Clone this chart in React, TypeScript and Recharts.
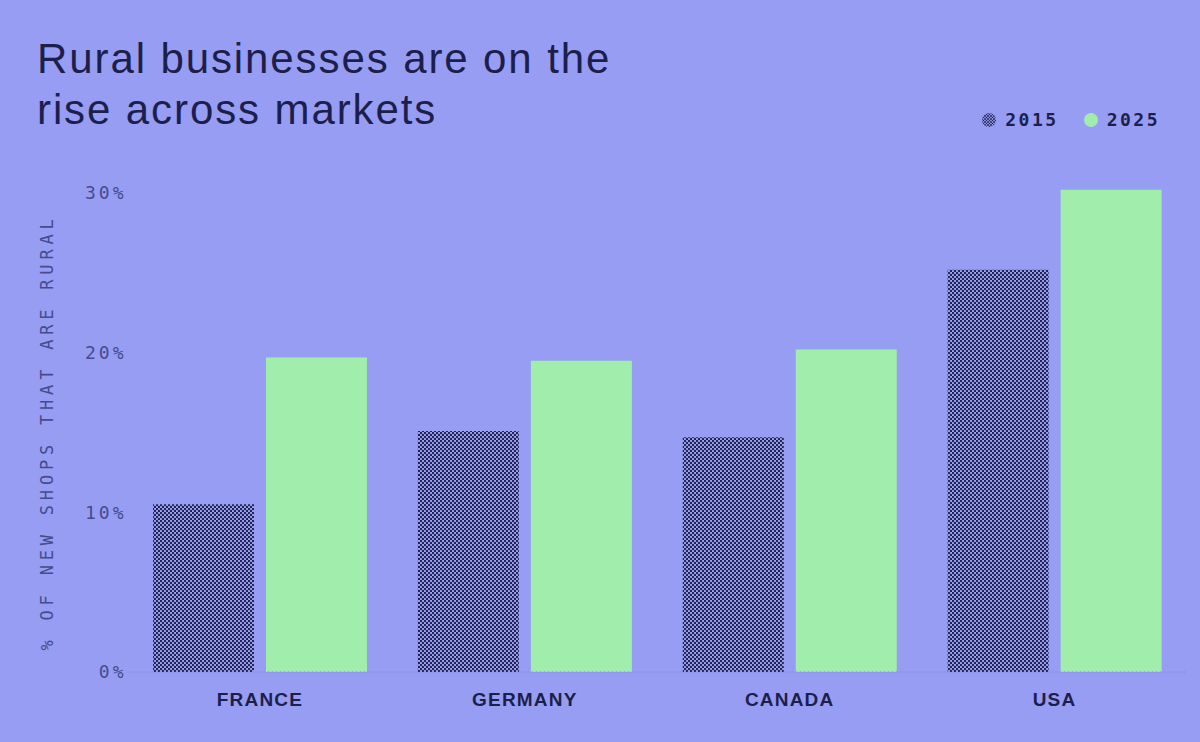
import { BarChart, Bar, XAxis, YAxis } from "recharts";

const countries = ["FRANCE", "GERMANY", "CANADA", "USA"];
const share2015 = [10.5, 15.1, 14.7, 25.2];
const share2025 = [19.7, 19.5, 20.2, 30.2];
const yTicks = [0, 10, 20, 30];
const seriesNames = ["2015", "2025"];

const BG = "#979df3";
const GREEN = "#a1eeac";
const NAVY = "#1c1f4c";
const MUTED = "#464b8d";
const MONO = "'DejaVu Sans Mono', monospace";

const data = countries.map((c, i) => ({
  country: c,
  y2015: share2015[i],
  y2025: share2025[i],
}));

function YLabel(props: any) {
  const vb = props.viewBox || {};
  const cx = 47;
  const cy = vb.y + vb.height / 2 + 4;
  return (
    <text
      x={cx}
      y={cy}
      transform={`rotate(-90 ${cx} ${cy})`}
      textAnchor="middle"
      dominantBaseline="central"
      fill={MUTED}
      fontFamily={MONO}
      fontSize={17}
      letterSpacing={4.8}
    >
      % OF NEW SHOPS THAT ARE RURAL
    </text>
  );
}

export default function App() {
  return (
    <div
      style={{
        position: "absolute",
        left: 0,
        top: 0,
        width: 1200,
        height: 742,
        background: BG,
        overflow: "hidden",
      }}
    >
      <div
        style={{
          position: "absolute",
          left: 37,
          top: 33,
          fontFamily: "'Liberation Sans', Arial, sans-serif",
          fontSize: 42,
          lineHeight: "51px",
          letterSpacing: 1.9,
          color: NAVY,
        }}
      >
        Rural businesses are on the
        <br />
        rise across markets
      </div>

      <div
        style={{
          position: "absolute",
          right: 40,
          top: 109,
          display: "flex",
          alignItems: "center",
          fontFamily: MONO,
          fontWeight: "bold",
          fontSize: 18,
          letterSpacing: 2.5,
          color: NAVY,
        }}
      >
        {seriesNames.map((name, i) => (
          <div key={name} style={{ display: "flex", alignItems: "center", marginLeft: i ? 24 : 0 }}>
            <svg width={16} height={16} style={{ marginRight: 8 }}>
              <defs>
                <pattern id={`legdots${i}`} width={3} height={3} patternUnits="userSpaceOnUse">
                  <rect width={3} height={3} fill="#8f95e6" />
                  <circle cx={1} cy={1} r={0.9} fill={NAVY} />
                  <circle cx={2.5} cy={2.5} r={0.7} fill={NAVY} />
                </pattern>
              </defs>
              <circle cx={8} cy={8} r={7} fill={i === 0 ? `url(#legdots${i})` : GREEN} />
            </svg>
            <span>{name}</span>
          </div>
        ))}
      </div>

      <div style={{ position: "absolute", left: 0, top: 0 }}>
        <BarChart
          width={1200}
          height={742}
          data={data}
          margin={{ top: 185, right: 13, bottom: 30, left: 0 }}
          barCategoryGap={25.5}
          barGap={12}
        >
          <defs>
            <pattern id="dither" width={4} height={4} patternUnits="userSpaceOnUse">
              <rect width={4} height={4} fill="#9ba0f2" />
              <circle cx={1} cy={1} r={1.15} fill={NAVY} />
              <circle cx={3} cy={3} r={1.15} fill={NAVY} />
            </pattern>
          </defs>
          <XAxis
            dataKey="country"
            height={40}
            tickLine={false}
            tickSize={0}
            tickMargin={21}
            axisLine={{ stroke: "#8388dc", strokeDasharray: "2 2" }}
            tick={{
              fill: NAVY,
              fontFamily: "'Liberation Sans', Arial, sans-serif",
              fontWeight: "bold",
              fontSize: 19,
              letterSpacing: 1.2,
            }}
          />
          <YAxis
            width={127.5}
            domain={[0, 30.5]}
            ticks={yTicks}
            allowDataOverflow
            tickLine={false}
            axisLine={false}
            tickSize={0}
            tickMargin={1}
            tickFormatter={(v: number) => `${v}%`}
            tick={{ fill: MUTED, fontFamily: MONO, fontSize: 18, letterSpacing: 3 }}
            label={<YLabel />}
          />
          <Bar dataKey="y2015" name={seriesNames[0]} fill="url(#dither)" isAnimationActive={false} />
          <Bar dataKey="y2025" name={seriesNames[1]} fill={GREEN} isAnimationActive={false} />
        </BarChart>
      </div>
    </div>
  );
}
